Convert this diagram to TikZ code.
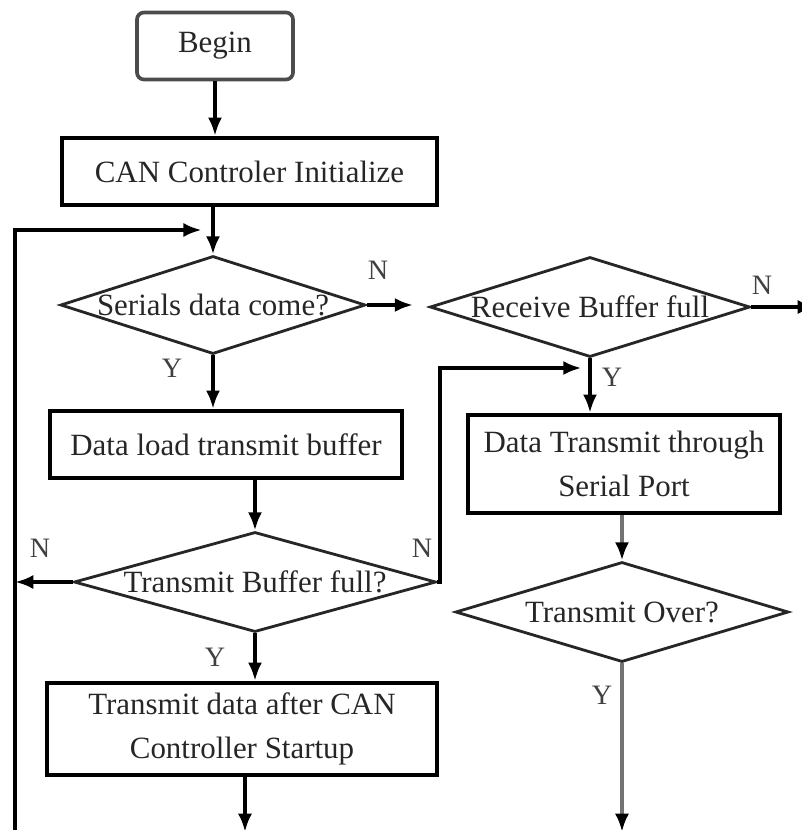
\documentclass[tikz,border=0pt]{standalone}
\usepackage{fontspec}
\setmainfont{Liberation Serif}
\usetikzlibrary{shapes.geometric,arrows.meta,calc}

\begin{document}
\begin{tikzpicture}[x=0.025cm,y=-0.025cm,
  every node/.style={font=\fontsize{22}{31}\selectfont, text=black!85},
  procbox/.style={draw=black, line width=3pt, rectangle, inner sep=0pt, align=center},
  startbox/.style={draw=black!70, line width=2.6pt, rounded corners=5pt, inner sep=0pt},
  decide/.style={draw=black!85, line width=2pt, diamond, inner sep=0pt},
  qtext/.style={inner sep=0pt},
  flow/.style={line width=3pt, -{Latex[length=13pt,width=10pt]}},
  grayflow/.style={line width=3.4pt, draw=black!55, -{Latex[length=13pt,width=10pt,black]}},
  yn/.style={font=\fontsize{20}{22}\selectfont, text=black!75, inner sep=0pt}
]
\useasboundingbox (0,0) rectangle (802,830);

% process boxes
\node[startbox, minimum width=3.9cm, minimum height=1.675cm] (begin) at (215,46) {\raisebox{-3pt}{Begin}};
\node[procbox, minimum width=9.375cm, minimum height=1.675cm] (init) at (249.5,171.5) {CAN Controler Initialize};
\node[procbox, minimum width=8.8cm, minimum height=1.675cm] (load) at (226,444.5) {Data load transmit buffer};
\node[procbox, minimum width=9.75cm, minimum height=2.3cm] (send) at (242,729) {Transmit data after CAN\\Controller Startup};
\node[procbox, minimum width=7.8cm, minimum height=2.45cm] (serial) at (624,464) {Data Transmit through\\Serial Port};

% decisions
\node[decide, minimum width=7.625cm, minimum height=2.45cm] (come) at (213,305) {};
\node[qtext] (comet) at (come.center) {Serials data come?};
\node[decide, minimum width=8cm, minimum height=2.5cm] (rfull) at (590,307) {};
\node[qtext] (rfullt) at (rfull.center) {Receive Buffer full};
\node[decide, minimum width=9.05cm, minimum height=2.5cm] (tfull) at (255,582) {};
\node[qtext] (tfullt) at (tfull.center) {Transmit Buffer full?};
\node[decide, minimum width=8.325cm, minimum height=2.5cm] (over) at (622,612) {};
\node[qtext] (overt) at (over.center) {Transmit Over?};

% loose ends and corners
\coordinate (loopB) at (15,834);
\coordinate (loopT) at (15,230);
\coordinate (fbR) at (440,368);
\coordinate (outR) at (816,307);
\coordinate (outL) at (245,832);
\coordinate (outS) at (622,832);

% connectors
\draw[flow] (begin.south) -- (begin.south |- init.north);
\draw[flow] (come.north |- init.south) -- (come.north);
\draw[flow, shorten >=8pt] (loopB) -- (loopT) -- (loopT -| come.north);
\draw[flow, shorten >=11pt] (come.east) -- (come.east -| rfull.west);
\draw[flow] (rfull.east) -- (outR);
\draw[flow] (come.south) -- (come.south |- load.north);
\draw[flow] (tfull.north |- load.south) -- (tfull.north);
\draw[flow] (tfull.west) -- (tfull.west -| loopB);
\draw[flow, shorten >=6pt] (tfull.east) -- (tfull.east -| fbR) -- (fbR) -- (fbR -| rfull.south);
\draw[flow] (tfull.south) -- (tfull.south |- send.north);
\draw[flow] (outL |- send.south) -- (outL);
\draw[flow] (rfull.south) -- (rfull.south |- serial.north);
\draw[grayflow] (over.north |- serial.south) -- (over.north);
\draw[grayflow] (over.south) -- (outS);

% branch labels
\node[yn] (n1) at (378,270) {N};
\node[yn] (n2) at (762,285) {N};
\node[yn] (y1) at (612,377) {Y};
\node[yn] (y2) at (172,368) {Y};
\node[yn] (n3) at (40,548) {N};
\node[yn] (n4) at (422,548) {N};
\node[yn] (y3) at (215,657) {Y};
\node[yn] (y4) at (602,695) {Y};
\end{tikzpicture}
\end{document}
